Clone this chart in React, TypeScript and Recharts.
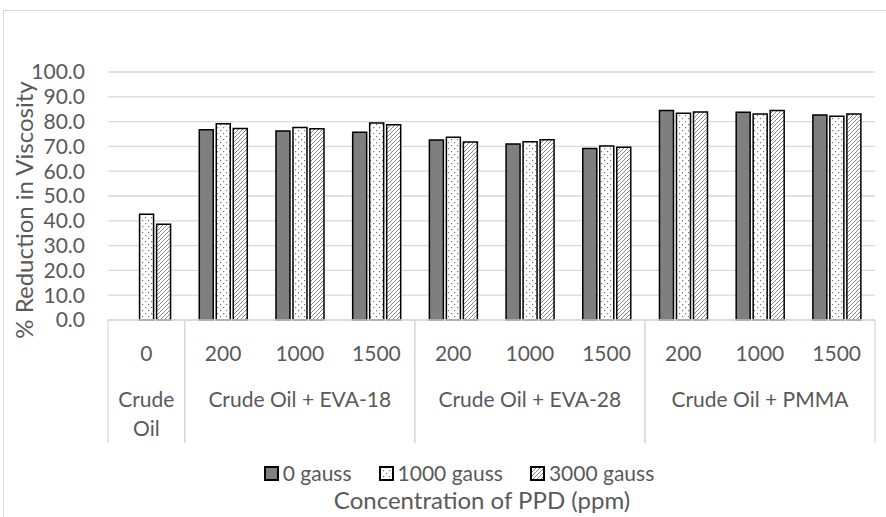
import { BarChart, Bar, XAxis, YAxis, CartesianGrid, Legend, Label } from 'recharts'

const ppm = ['0', '200', '1000', '1500', '200', '1000', '1500', '200', '1000', '1500']
const groups = [
  'Crude Oil',
  'Crude Oil + EVA-18', 'Crude Oil + EVA-18', 'Crude Oil + EVA-18',
  'Crude Oil + EVA-28', 'Crude Oil + EVA-28', 'Crude Oil + EVA-28',
  'Crude Oil + PMMA', 'Crude Oil + PMMA', 'Crude Oil + PMMA',
]
const gauss0 = [null, 76.7, 76.2, 75.7, 72.6, 71.0, 69.2, 84.5, 83.8, 82.7]
const gauss1000 = [42.6, 79.1, 77.6, 79.4, 73.7, 71.9, 70.2, 83.4, 83.1, 82.2]
const gauss3000 = [38.6, 77.2, 77.1, 78.7, 71.8, 72.7, 69.7, 83.9, 84.5, 83.1]
const yTicks = [0, 10, 20, 30, 40, 50, 60, 70, 80, 90, 100]
const seriesNames = ['0 gauss', '1000 gauss', '3000 gauss']

const data = ppm.map((p, i) => ({
  ppm: p,
  group: groups[i],
  g0: gauss0[i],
  g1000: gauss1000[i],
  g3000: gauss3000[i],
}))

const TEXT = '#595959'
const GRID = '#d9d9d9'
const FONT = 21
const TITLE_FONT = 24
const AXIS_H = 123
const fills = ['#7f7f7f', 'url(#dots)', 'url(#hatch)']

function GroupTick(props: any) {
  const { x, y, payload, index } = props
  const half = payload?.offset ?? props.width / props.visibleTicksCount / 2
  const g = groups[index]
  const members = groups.map((v, i) => (v === g ? i : -1)).filter(i => i >= 0)
  const mid = members[Math.floor(members.length / 2)]
  const first = members[0] === index
  const last = members[members.length - 1] === index
  const lines = members.length === 1 ? g.split(' ') : [g]

  return (
    <g>
      <text x={x} y={y + 32} textAnchor="middle" dominantBaseline="central" fill={TEXT} fontSize={FONT}>
        {payload.value}
      </text>
      {index === mid &&
        lines.map((t, k) => (
          <text key={k} x={x} y={y + 78 + k * 29} textAnchor="middle" dominantBaseline="central" fill={TEXT} fontSize={FONT}>
            {t}
          </text>
        ))}
      {first && <line x1={x - half} x2={x - half} y1={y} y2={y + AXIS_H} stroke={GRID} strokeWidth={1.3} />}
      {last && <line x1={x + half} x2={x + half} y1={y} y2={y + AXIS_H} stroke={GRID} strokeWidth={1.3} />}
    </g>
  )
}

function YTitle(props: any) {
  const { x, y, height } = props.viewBox
  const cx = x + 23
  const cy = y + height / 2 + 14
  return (
    <text
      x={cx}
      y={cy}
      transform={`rotate(-90, ${cx}, ${cy})`}
      textAnchor="middle"
      dominantBaseline="central"
      fill={TEXT}
      fontSize={TITLE_FONT}
    >
      % Reduction in Viscosity
    </text>
  )
}

function Swatch({ fill }: { fill: string }) {
  return (
    <svg width={15} height={15} style={{ marginRight: 4 }}>
      <rect x={1} y={1} width={13} height={13} fill={fill} stroke="#000" strokeWidth={2} />
    </svg>
  )
}

function renderLegend() {
  return (
    <div style={{ paddingTop: 19, color: TEXT }}>
      <div
        style={{
          position: 'relative',
          left: 16,
          height: 22,
          lineHeight: '22px',
          fontSize: FONT,
          display: 'flex',
          justifyContent: 'center',
          alignItems: 'center',
          gap: 27,
        }}
      >
        {seriesNames.map((n, i) => (
          <span key={n} style={{ display: 'flex', alignItems: 'center' }}>
            <Swatch fill={fills[i]} />
            {n}
          </span>
        ))}
      </div>
      <div style={{ position: 'relative', left: 39, height: 32, lineHeight: '32px', fontSize: TITLE_FONT, textAlign: 'center' }}>
        Concentration of PPD (ppm)
      </div>
    </div>
  )
}

export default function App() {
  return (
    <div style={{ position: 'absolute', left: 0, top: 0, width: 886, height: 517, overflow: 'hidden', background: '#fff', fontFamily: 'Lato, sans-serif' }}>
      <div style={{ position: 'absolute', left: 3, top: 10, width: 1000, height: 1000, border: `1.5px solid ${GRID}` }} />
      <BarChart
        width={886}
        height={517}
        data={data}
        margin={{ top: 72, right: 11, left: 0, bottom: 1 }}
        barCategoryGap="19%"
        barGap={3}
      >
        <defs>
          <pattern id="dots" width={6} height={6} patternUnits="userSpaceOnUse">
            <rect width={6} height={6} fill="#fff" />
            <rect x={1} y={1} width={1.2} height={1.2} fill="#777" />
            <rect x={4} y={4} width={1.2} height={1.2} fill="#777" />
          </pattern>
          <pattern id="hatch" width={4} height={4} patternUnits="userSpaceOnUse">
            <rect width={4} height={4} fill="#fff" />
            <path d="M-1,1 l2,-2 M0,4 l4,-4 M3,5 l2,-2" stroke="#888" strokeWidth={1} />
          </pattern>
        </defs>
        <CartesianGrid vertical={false} stroke={GRID} strokeWidth={1.3} />
        <XAxis
          dataKey="ppm"
          interval={0}
          height={AXIS_H}
          tickLine={false}
          tickSize={0}
          tickMargin={0}
          axisLine={{ stroke: GRID, strokeWidth: 1.3 }}
          tick={<GroupTick />}
        />
        <YAxis
          width={108}
          domain={[0, 100]}
          ticks={yTicks}
          interval={0}
          tickFormatter={(v: number) => v.toFixed(1)}
          axisLine={false}
          tickLine={false}
          tickSize={0}
          tickMargin={23}
          tick={{ fill: TEXT, fontSize: FONT }}
        >
          <Label content={<YTitle />} />
        </YAxis>
        <Legend verticalAlign="bottom" content={renderLegend} wrapperStyle={{ left: 0, width: 886 }} />
        <Bar dataKey="g0" name={seriesNames[0]} fill={fills[0]} stroke="#000" strokeWidth={1.5} isAnimationActive={false} />
        <Bar dataKey="g1000" name={seriesNames[1]} fill={fills[1]} stroke="#000" strokeWidth={1.5} isAnimationActive={false} />
        <Bar dataKey="g3000" name={seriesNames[2]} fill={fills[2]} stroke="#000" strokeWidth={1.5} isAnimationActive={false} />
      </BarChart>
    </div>
  )
}
